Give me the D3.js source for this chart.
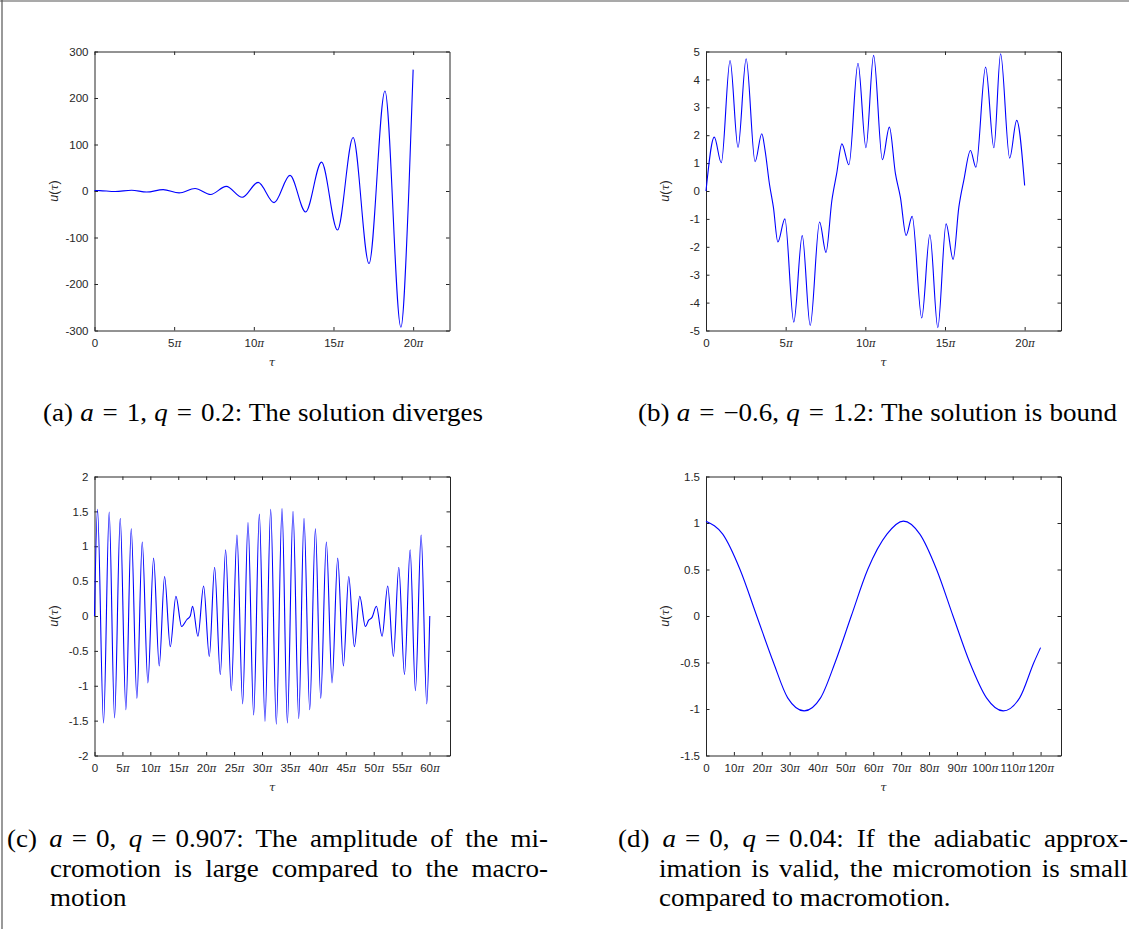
<!DOCTYPE html>
<html><head><meta charset="utf-8">
<script src="https://cdn.jsdelivr.net/npm/d3@7"></script>
<style>
html,body{margin:0;padding:0;background:#fff;}
svg{display:block;}
</style></head><body>
<svg id="chart" width="1129" height="929"></svg>
<script>
// ---------- Data (tau in multiples of pi, u values) ----------
// (a) a = 1, q = 0.2
const aTau = [0, 0.33, 1.3, 2.33, 3.27, 4.31, 5.31, 6.31, 7.29, 8.27, 9.27, 10.27, 11.27, 12.27, 13.25, 14.25, 15.25, 16.23, 17.23, 18.23, 19.23, 19.73, 20];
const aU   = [1.2, 0.9, -1.2, 1.6, -2.2, 2.9, -4, 5.5, -7.4, 10, -13.5, 18.5, -25, 33.5, -45, 62, -84, 115, -156, 215, -293, 0, 261];
// (b) a = -0.6, q = 1.2
const bTau = [0, 0.52, 0.96, 1.51, 2.01, 2.52, 3.08, 3.5, 3.71, 3.98, 4.23, 4.51, 4.95, 5.51, 6.04, 6.54, 7.13, 7.53, 7.9, 8.2, 8.53, 8.97, 9.54, 10.04, 10.52, 11.07, 11.51, 11.89, 12.2, 12.56, 12.94, 13.54, 14.05, 14.55, 15.07, 15.51, 15.87, 16.18, 16.6, 16.94, 17.55, 18.07, 18.49, 19.06, 19.5, 20];
const bU   = [0, 1.93, 1.01, 4.68, 1.56, 4.74, 1.05, 2.05, 1.45, 0.26, -0.58, -1.83, -1.0, -4.70, -1.6, -4.82, -1.11, -2.2, -0.34, 0.62, 1.69, 0.94, 4.58, 1.55, 4.86, 1.12, 2.29, 0.62, -0.22, -1.59, -0.91, -4.55, -1.57, -4.9, -1.18, -2.45, -0.58, 0.38, 1.45, 0.85, 4.44, 1.55, 4.92, 1.18, 2.53, 0.2];
// (c) a = 0, q = 0.907
const cTau = [0, 0.54, 1.62, 2.63, 3.59, 4.61, 5.62, 6.58, 7.59, 8.55, 9.56, 10.58, 11.59, 12.55, 13.57, 14.58, 15.60, 16.55, 17.15, 17.57, 18.52, 19.54, 20.56, 21.51, 22.53, 23.48, 24.5, 25.51, 26.53, 27.49, 28.5, 29.52, 30.53, 31.55, 32.56, 33.58, 34.54, 35.55, 36.57, 37.52, 38.54, 39.56, 40.51, 41.52, 42.54, 43.55, 44.57, 45.53, 46.54, 47.5, 48.51, 49.1, 49.7, 50.48, 51.5, 52.51, 53.53, 54.49, 55.51, 56.52, 57.47, 58.49, 59.5, 60.04];
const cU   = [0, 1.53, -1.535, 1.49, -1.46, 1.40, -1.345, 1.25, -1.18, 1.06, -0.96, 0.83, -0.715, 0.566, -0.44, 0.284, -0.15, -0.05, 0.0, 0.14, -0.29, 0.43, -0.58, 0.70, -0.84, 0.95, -1.07, 1.16, -1.26, 1.34, -1.42, 1.46, -1.51, 1.53, -1.55, 1.54, -1.535, 1.50, -1.47, 1.40, -1.345, 1.25, -1.18, 1.06, -0.96, 0.83, -0.715, 0.566, -0.44, 0.284, -0.15, -0.06, -0.02, 0.14, -0.29, 0.43, -0.58, 0.70, -0.84, 0.95, -1.07, 1.16, -1.26, 0.0];
// (d) a = 0, q = 0.04
const dTau = [0, 6.0, 12.2, 18.2, 24.2, 29.3, 35.2, 41.1, 46.3, 52.1, 58.0, 64.9, 70.8, 76.7, 82.7, 88.6, 94.6, 100.6, 106.6, 112.5, 117.6, 120];
const dU   = [1.02, 0.88, 0.5, 0, -0.5, -0.88, -1.02, -0.88, -0.5, 0, 0.5, 0.88, 1.02, 0.88, 0.5, 0, -0.5, -0.88, -1.02, -0.88, -0.5, -0.34];

// Tick values
const abXTicks = [0, 5, 10, 15, 20];          // multiples of pi
const cXTicks  = [0, 5, 10, 15, 20, 25, 30, 35, 40, 45, 50, 55, 60];
const dXTicks  = [0, 10, 20, 30, 40, 50, 60, 70, 80, 90, 100, 110, 120];
const aYTicks  = [-300, -200, -100, 0, 100, 200, 300];
const bYTicks  = [-5, -4, -3, -2, -1, 0, 1, 2, 3, 4, 5];
const cYTicks  = [-2, -1.5, -1, -0.5, 0, 0.5, 1, 1.5, 2];
const dYTicks  = [-1.5, -1, -0.5, 0, 0.5, 1, 1.5];

// x-axis extents (in tau units)
const tauMaxes = [70, 70, 200, 400];

// Captions: [text, italic]  (\u2004 = math spacing around "=")
const M = "\u2004=\u2004";
const capA = [["(a) ", 0], ["a", 1], [M + "1, ", 0], ["q", 1], [M + "0.2: The solution diverges", 0]];
const capB = [["(b) ", 0], ["a", 1], [M + "\u22120.6, ", 0], ["q", 1], [M + "1.2: The solution is bound", 0]];
const capC1 = [["(c) ", 0], ["a", 1], [M + "0, ", 0], ["q", 1], [M + "0.907: The amplitude of the mi-", 0]];
const capC2 = [["cromotion is large compared to the macro-", 0]];
const capC3 = [["motion", 0]];
const capD1 = [["(d) ", 0], ["a", 1], [M + "0, ", 0], ["q", 1], [M + "0.04: If the adiabatic approx-", 0]];
const capD2 = [["imation is valid, the micromotion is small", 0]];
const capD3 = [["compared to macromotion.", 0]];

// ---------- Drawing ----------
const svg = d3.select("#chart");
svg.append("rect").attr("width", 1129).attr("height", 929).attr("fill", "#fff");
svg.append("line").attr("x1", 0).attr("x2", 1129).attr("y1", 1).attr("y2", 1).attr("stroke", "#555").attr("stroke-width", 1.2);
svg.append("line").attr("x1", 2).attr("x2", 2).attr("y1", 0).attr("y2", 929).attr("stroke", "#555").attr("stroke-width", 1.2);

const AX = "#262626";
const panels = [
  {tau: aTau, u: aU, xt: abXTicks, yt: aYTicks, tmax: tauMaxes[0], box: [94.5, 449.5, 51.5, 330.5]},
  {tau: bTau, u: bU, xt: abXTicks, yt: bYTicks, tmax: tauMaxes[1], box: [706, 1061, 51.5, 330.5]},
  {tau: cTau, u: cU, xt: cXTicks,  yt: cYTicks, tmax: tauMaxes[2], box: [94.5, 450, 476.5, 755.5]},
  {tau: dTau, u: dU, xt: dXTicks,  yt: dYTicks, tmax: tauMaxes[3], box: [706, 1061, 476.5, 755.5]}
];

panels.forEach(p => {
  const [x0, x1, y0, y1] = p.box;
  const x = d3.scaleLinear().domain([0, p.tmax / Math.PI]).range([x0, x1]);
  const y = d3.scaleLinear().domain([p.yt[0], p.yt[p.yt.length - 1]]).range([y1, y0]);
  const g = svg.append("g");
  const tl = 3.5;
  const fmtY = d => String(d);

  const styleAxis = sel => {
    sel.select(".domain").attr("stroke", AX).attr("stroke-width", 1);
    sel.selectAll(".tick line").attr("stroke", AX).attr("stroke-width", 1);
    sel.selectAll(".tick text").attr("fill", AX).attr("font-family", "Liberation Sans, Arial, sans-serif").attr("font-size", 11.5);
  };

  g.append("g").attr("transform", `translate(${x0},0)`)
    .call(d3.axisLeft(y).tickValues(p.yt).tickFormat(fmtY).tickSizeInner(-tl).tickSizeOuter(0).tickPadding(6))
    .call(styleAxis);
  g.append("g").attr("transform", `translate(${x1},0)`)
    .call(d3.axisRight(y).tickValues(p.yt).tickFormat("").tickSizeInner(-tl).tickSizeOuter(0))
    .call(styleAxis);
  const bx = g.append("g").attr("transform", `translate(0,${y1})`)
    .call(d3.axisBottom(x).tickValues(p.xt).tickFormat(d => d).tickSizeInner(-tl).tickSizeOuter(0).tickPadding(8))
    .call(styleAxis);
  bx.selectAll(".tick text").each(function(d) {
    const t = d3.select(this);
    t.text(null);
    t.append("tspan").text(String(d));
    if (d !== 0) t.append("tspan").text("\u03C0").attr("font-family", "DejaVu Serif, serif").attr("font-style", "italic").attr("font-size", 10.5);
  });
  g.append("g").attr("transform", `translate(0,${y0})`)
    .call(d3.axisTop(x).tickValues(p.xt).tickFormat("").tickSizeInner(-tl).tickSizeOuter(0))
    .call(styleAxis);

  const yl = g.append("text").attr("transform", `translate(${x0 - 37},${(y0 + y1) / 2}) rotate(-90)`)
    .attr("text-anchor", "middle").attr("fill", AX).attr("font-size", 12.5).attr("font-family", "Liberation Sans, Arial, sans-serif");
  yl.append("tspan").text("u").attr("font-style", "italic");
  yl.append("tspan").text("(");
  yl.append("tspan").text("\u03C4").attr("font-style", "italic").attr("font-family", "DejaVu Serif, serif").attr("font-size", 11);
  yl.append("tspan").text(")");
  g.append("text").attr("x", (x0 + x1) / 2).attr("y", y1 + 35).attr("text-anchor", "middle")
    .attr("fill", AX).attr("font-size", 11.5).attr("font-style", "italic").attr("font-family", "DejaVu Serif, serif").text("\u03C4");

  const pts = p.tau.map((t, i) => [t, p.u[i]]);
  g.append("path").datum(pts)
    .attr("fill", "none").attr("stroke", "#0000ff").attr("stroke-width", 1.1)
    .attr("d", d3.line().x(d => x(d[0])).y(d => y(d[1])).curve(d3.curveMonotoneX));
});

// captions: slightly widened glyphs; justified lines get extra word spacing
const SX = 1.08;
function caption(xp, yp, rightEdge, parts) {
  const g = svg.append("g").attr("transform", `translate(${xp},${yp}) scale(${SX},1)`);
  const t = g.append("text").attr("x", 0).attr("y", 0)
    .attr("font-family", "Liberation Serif, Times New Roman, serif").attr("font-size", 25).attr("fill", "#000")
    .style("white-space", "pre");
  parts.forEach(pp => {
    const s = t.append("tspan").text(pp[0]);
    if (pp[1]) s.attr("font-style", "italic");
  });
  if (rightEdge) {
    const full = parts.map(pp => pp[0]).join("");
    const spaces = (full.match(/ /g) || []).length;
    const nat = t.node().getComputedTextLength();
    const extra = ((rightEdge - xp) / SX - nat) / spaces;
    if (spaces > 0) t.style("word-spacing", Math.max(extra, -2) + "px");
  }
}
caption(43, 421, 483, capA);
caption(638, 421, 1117, capB);
caption(7, 847, 548, capC1);
caption(50, 876.5, 548, capC2);
caption(50, 906, null, capC3);
caption(618, 847, 1128, capD1);
caption(659, 876.5, 1128, capD2);
caption(659, 906, null, capD3);
</script></body></html>
